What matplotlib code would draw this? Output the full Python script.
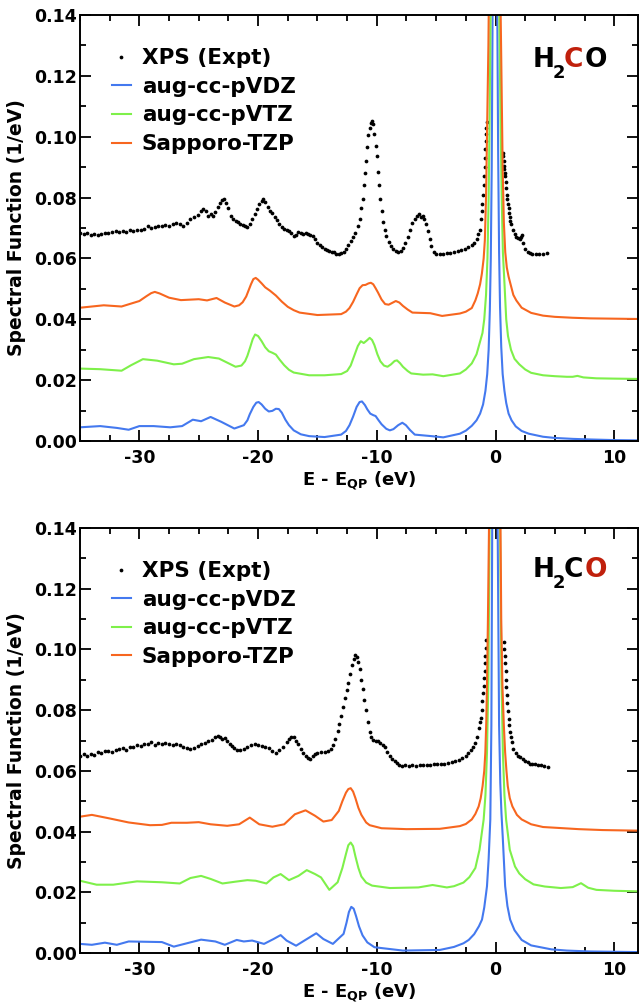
import numpy as np
import matplotlib
matplotlib.use('Agg')
import matplotlib.pyplot as plt
from matplotlib.ticker import MultipleLocator, FormatStrFormatter

plt.rcParams['font.family'] = 'DejaVu Sans'
plt.rcParams['font.weight'] = 'bold'
plt.rcParams['mathtext.fontset'] = 'dejavusans'
plt.rcParams['axes.unicode_minus'] = False

# ---------------- data: C 1s panel (top) ----------------
c_xps_x = [-35.0, -34.7, -34.4, -34.1, -33.8, -33.5, -33.2, -32.9, -32.6, -32.3, -32.0, -31.7, -31.4, -31.1,
           -30.8, -30.5, -30.2, -29.9, -29.6, -29.3, -29.0, -28.7, -28.4, -28.1, -27.8, -27.5, -27.2, -26.9,
           -26.6, -26.3, -26.0, -25.7, -25.4, -25.1, -24.8, -24.6, -24.4, -24.2, -24.0, -23.8, -23.6, -23.4,
           -23.2, -23.0, -22.85, -22.7, -22.5, -22.3, -22.1, -21.9, -21.7, -21.5, -21.3, -21.1, -20.9, -20.7,
           -20.5, -20.3, -20.1, -19.9, -19.7, -19.55, -19.4, -19.2, -19.0, -18.8, -18.6, -18.4, -18.2, -18.0,
           -17.8, -17.6, -17.4, -17.2, -17.0, -16.8, -16.6, -16.4, -16.2, -16.0, -15.8, -15.6, -15.4, -15.2,
           -15.0, -14.8, -14.6, -14.4, -14.2, -14.0, -13.8, -13.6, -13.4, -13.2, -13.0, -12.8, -12.6, -12.4,
           -12.2, -12.0, -11.8, -11.6, -11.45, -11.3, -11.2, -11.1, -11.0, -10.9, -10.8, -10.7, -10.6, -10.5,
           -10.4, -10.3, -10.2, -10.1, -10.0, -9.9, -9.8, -9.7, -9.6, -9.5, -9.35, -9.2, -9.0, -8.8, -8.6,
           -8.4, -8.2, -8.0, -7.8, -7.6, -7.4, -7.2, -7.0, -6.8, -6.6, -6.45, -6.3, -6.15, -6.0, -5.85, -5.7,
           -5.55, -5.4, -5.2, -5.0, -4.7, -4.4, -4.1, -3.8, -3.5, -3.2, -2.9, -2.6, -2.3, -2.0, -1.8, -1.6,
           -1.45, -1.3, -1.2, -1.15, -1.1, -1.05, -1.0, -0.96, -0.92, -0.88, -0.85, -0.82, -0.8, -0.77, -0.75,
           0.65, 0.67, 0.7, 0.72, 0.75, 0.77, 0.8, 0.85, 0.9, 0.95, 1.0, 1.05, 1.1, 1.15, 1.2, 1.25, 1.3, 1.45,
           1.6, 1.75, 1.9, 2.05, 2.15, 2.25, 2.35, 2.5, 2.7, 2.9, 3.1, 3.4, 3.7, 4.0, 4.3]
c_xps_y = [0.0683, 0.0680, 0.0684, 0.0678, 0.0681, 0.0676, 0.0679, 0.0685, 0.0683, 0.0688, 0.0690, 0.0686,
           0.0691, 0.0688, 0.0693, 0.0690, 0.0695, 0.0692, 0.0698, 0.0706, 0.0700, 0.0703, 0.0708, 0.0705,
           0.0711, 0.0708, 0.0714, 0.0716, 0.0712, 0.0706, 0.0718, 0.0730, 0.0737, 0.0742, 0.0755, 0.0762,
           0.0756, 0.0738, 0.0745, 0.0741, 0.0752, 0.0768, 0.0782, 0.0791, 0.0795, 0.0783, 0.0765, 0.0738,
           0.0728, 0.0722, 0.0720, 0.0713, 0.0710, 0.0706, 0.0703, 0.0712, 0.0728, 0.0745, 0.0762, 0.0778,
           0.0790, 0.0795, 0.0786, 0.0768, 0.0757, 0.0748, 0.0736, 0.0725, 0.0712, 0.0703, 0.0697, 0.0694,
           0.0690, 0.0684, 0.0675, 0.0678, 0.0686, 0.0683, 0.0680, 0.0684, 0.0679, 0.0676, 0.0673, 0.0665,
           0.0652, 0.0645, 0.0638, 0.0632, 0.0628, 0.0625, 0.0622, 0.0620, 0.0615, 0.0613, 0.0617, 0.0622,
           0.0630, 0.0645, 0.0658, 0.0670, 0.0683, 0.0705, 0.0730, 0.0765, 0.0795, 0.0840, 0.0880, 0.0920,
           0.0965, 0.1005, 0.1030, 0.1045, 0.1052, 0.1043, 0.1010, 0.0970, 0.0935, 0.0885, 0.0840, 0.0795,
           0.0755, 0.0720, 0.0695, 0.0675, 0.0655, 0.0642, 0.0632, 0.0625, 0.0620, 0.0624, 0.0635, 0.0650,
           0.0670, 0.0695, 0.0715, 0.0728, 0.0738, 0.0745, 0.0735, 0.0738, 0.0730, 0.0712, 0.0690, 0.0665,
           0.0640, 0.0622, 0.0615, 0.0616, 0.0614, 0.0617, 0.0619, 0.0622, 0.0625, 0.0627, 0.0630, 0.0636,
           0.0645, 0.0652, 0.0665, 0.0680, 0.0695, 0.0730, 0.0755, 0.0780, 0.0810, 0.0840, 0.0870, 0.0900,
           0.0930, 0.0960, 0.0985, 0.1010, 0.1030, 0.1050,
           0.0945, 0.0935, 0.0920, 0.0905, 0.0895, 0.0880, 0.0870, 0.0850, 0.0830, 0.0810, 0.0795, 0.0780,
           0.0765, 0.0750, 0.0735, 0.0722, 0.0712, 0.0692, 0.0680, 0.0672, 0.0668, 0.0665, 0.0672, 0.0678,
           0.0650, 0.0632, 0.0622, 0.0618, 0.0616, 0.0615, 0.0614, 0.0616, 0.0618]

c_vdz_x = [-35, -33.3, -31.9, -30.9, -30.0, -28.8, -27.4, -26.4, -25.5, -24.8, -24.0, -23.1, -22.0, -21.2,
           -20.9, -20.7, -20.4, -20.15, -19.95, -19.7, -19.4, -19.1, -18.8, -18.5, -18.25, -18.0, -17.7, -17.4,
           -17.0, -16.4, -15.7, -14.4, -13.0, -12.6, -12.3, -12.0, -11.7, -11.45, -11.25, -11.0, -10.8, -10.55,
           -10.3, -10.1, -9.85, -9.6, -9.2, -8.9, -8.6, -8.2, -7.85, -7.55, -7.2, -6.8, -5.4, -4.4, -3.0,
           -2.5, -2.0, -1.6, -1.3, -1.05, -0.85, -0.7, -0.58, -0.48, -0.4, -0.32, -0.25, -0.15, -0.05, 0.05,
           0.15, 0.22, 0.3, 0.38, 0.48, 0.6, 0.75, 0.9, 1.1, 1.35, 1.7, 2.2, 2.8, 4.0, 5.0, 6.5, 8.0, 10.0,
           12.0]
c_vdz_y = [0.0045, 0.0049, 0.0043, 0.0037, 0.0049, 0.0049, 0.0045, 0.0049, 0.0070, 0.0065, 0.0079, 0.0063,
           0.0041, 0.0052, 0.0068, 0.0088, 0.0112, 0.0126, 0.0128, 0.0120, 0.0106, 0.0097, 0.0099, 0.0106,
           0.0105, 0.0093, 0.0070, 0.0052, 0.0035, 0.0022, 0.0016, 0.0013, 0.0021, 0.0033, 0.0052, 0.0080,
           0.0112, 0.0128, 0.0130, 0.0118, 0.0104, 0.0090, 0.0085, 0.0082, 0.0068, 0.0055, 0.0040, 0.0035,
           0.0039, 0.0052, 0.0060, 0.0052, 0.0036, 0.0021, 0.0016, 0.0012, 0.0024, 0.0034, 0.0050, 0.0068,
           0.0090, 0.0120, 0.0165, 0.0220, 0.0300, 0.0430, 0.0600, 0.0900, 0.1400, 0.2500, 0.3500, 0.2500,
           0.1400, 0.0950, 0.0620, 0.0440, 0.0310, 0.0220, 0.0165, 0.0125, 0.0090, 0.0068, 0.0048, 0.0033,
           0.0024, 0.0014, 0.0010, 0.0007, 0.0005, 0.0003, 0.0002]

c_vtz_x = [-35, -33.3, -31.5, -30.7, -29.7, -28.5, -27.1, -26.4, -25.4, -24.2, -23.3, -21.9, -21.4, -21.1,
           -20.9, -20.7, -20.45, -20.25, -20.0, -19.7, -19.4, -19.1, -18.8, -18.5, -18.2, -17.8, -17.4, -17.0,
           -15.7, -14.4, -13.0, -12.5, -12.2, -11.9, -11.6, -11.35, -11.1, -10.85, -10.6, -10.4, -10.2, -9.95,
           -9.7, -9.4, -9.1, -8.8, -8.5, -8.3, -8.05, -7.8, -7.4, -7.1, -6.1, -5.3, -4.4, -3.0, -2.5, -2.0,
           -1.6, -1.35, -1.1, -0.95, -0.8, -0.68, -0.58, -0.5, -0.42, -0.3, -0.05, 0.2, 0.32, 0.42, 0.52,
           0.62, 0.75, 0.9, 1.05, 1.3, 1.6, 2.0, 2.5, 3.0, 4.0, 5.0, 6.0, 6.5, 6.9, 7.4, 8.5, 10.0, 12.0]
c_vtz_y = [0.0238, 0.0236, 0.0231, 0.0249, 0.0269, 0.0264, 0.0252, 0.0254, 0.0269, 0.0276, 0.0271, 0.0244,
           0.0248, 0.0262, 0.0280, 0.0304, 0.0335, 0.0350, 0.0345, 0.0328, 0.0308, 0.0295, 0.0290, 0.0284,
           0.0268, 0.0249, 0.0234, 0.0225, 0.0216, 0.0216, 0.0220, 0.0230, 0.0248, 0.0280, 0.0312, 0.0328,
           0.0322, 0.0330, 0.0339, 0.0332, 0.0315, 0.0285, 0.0262, 0.0248, 0.0244, 0.0252, 0.0263, 0.0265,
           0.0256, 0.0244, 0.0230, 0.0222, 0.0218, 0.0219, 0.0213, 0.0222, 0.0235, 0.0255, 0.0285, 0.0320,
           0.0355, 0.0400, 0.0480, 0.0600, 0.0800, 0.1050, 0.1400, 0.2200, 0.4000, 0.2200, 0.1400, 0.1050,
           0.0800, 0.0620, 0.0520, 0.0400, 0.0345, 0.0300, 0.0270, 0.0252, 0.0235, 0.0224, 0.0216, 0.0213,
           0.0211, 0.0211, 0.0214, 0.0209, 0.0206, 0.0205, 0.0204]

c_tzp_x = [-35, -33, -31.5, -30, -29.4, -29.0, -28.7, -28.3, -27.9, -27.5, -26.5, -25, -24.3, -23.5, -22.8,
           -22.0, -21.6, -21.3, -21.0, -20.8, -20.6, -20.4, -20.2, -20.0, -19.7, -19.4, -19.0, -18.5, -18.0,
           -17.5, -17.0, -16.5, -15, -13.0, -12.6, -12.3, -12.0, -11.7, -11.45, -11.2, -10.95, -10.7, -10.5,
           -10.3, -10.1, -9.9, -9.6, -9.3, -9.0, -8.7, -8.4, -8.1, -7.8, -7.4, -7.0, -5.5, -4.5, -3.0, -2.5,
           -2.0, -1.7, -1.5, -1.3, -1.15, -1.0, -0.9, -0.8, -0.7, -0.6, -0.5, -0.3, -0.05, 0.2, 0.4, 0.5, 0.6,
           0.7, 0.82, 0.95, 1.1, 1.3, 1.5, 1.75, 2.2, 3.0, 4.0, 5.0, 6.5, 8.0, 10.0, 12.0]
c_tzp_y = [0.0438, 0.0446, 0.0442, 0.0460, 0.0476, 0.0486, 0.0490, 0.0485, 0.0478, 0.0471, 0.0463, 0.0466,
           0.0462, 0.0470, 0.0455, 0.0442, 0.0446, 0.0456, 0.0475, 0.0495, 0.0515, 0.0532, 0.0536, 0.0530,
           0.0518, 0.0505, 0.0494, 0.0478, 0.0458, 0.0441, 0.0430, 0.0422, 0.0414, 0.0417, 0.0425, 0.0437,
           0.0457, 0.0482, 0.0502, 0.0512, 0.0513, 0.0518, 0.0520, 0.0515, 0.0502, 0.0488, 0.0465, 0.0450,
           0.0448, 0.0454, 0.0460, 0.0455, 0.0444, 0.0432, 0.0422, 0.0420, 0.0411, 0.0419, 0.0425, 0.0437,
           0.0462, 0.0485, 0.0515, 0.0550, 0.0600, 0.0660, 0.0800, 0.1050, 0.1300, 0.1700, 0.3000, 0.4500,
           0.3000, 0.1500, 0.1200, 0.0900, 0.0720, 0.0620, 0.0570, 0.0540, 0.0510, 0.0480, 0.0462, 0.0438,
           0.0421, 0.0412, 0.0408, 0.0405, 0.0403, 0.0402, 0.0401]

# ---------------- data: O 1s panel (bottom) ----------------
o_xps_x = [-35.0, -34.7, -34.4, -34.1, -33.8, -33.5, -33.2, -32.9, -32.6, -32.3, -32.0, -31.7, -31.4, -31.1,
           -30.8, -30.5, -30.2, -29.9, -29.6, -29.3, -29.0, -28.7, -28.4, -28.1, -27.8, -27.5, -27.2, -26.9,
           -26.6, -26.3, -26.0, -25.7, -25.4, -25.1, -24.8, -24.5, -24.2, -23.9, -23.6, -23.4, -23.2, -23.0,
           -22.8, -22.6, -22.4, -22.2, -22.0, -21.8, -21.5, -21.2, -20.9, -20.6, -20.3, -20.0, -19.7, -19.4,
           -19.1, -18.8, -18.5, -18.2, -17.9, -17.6, -17.4, -17.2, -17.0, -16.8, -16.6, -16.4, -16.2, -16.0,
           -15.8, -15.6, -15.4, -15.2, -15.0, -14.7, -14.4, -14.1, -13.9, -13.7, -13.5, -13.3, -13.15, -13.0,
           -12.85, -12.7, -12.55, -12.4, -12.25, -12.1, -11.95, -11.8, -11.7, -11.55, -11.45, -11.3, -11.2,
           -11.05, -10.9, -10.75, -10.6, -10.45, -10.3, -10.1, -9.9, -9.7, -9.5, -9.3, -9.1, -8.9, -8.7, -8.5,
           -8.3, -8.1, -7.9, -7.6, -7.3, -7.0, -6.7, -6.4, -6.1, -5.8, -5.5, -5.2, -4.9, -4.6, -4.3, -4.0,
           -3.7, -3.4, -3.1, -2.8, -2.5, -2.3, -2.1, -1.9, -1.7, -1.55, -1.4, -1.3, -1.25, -1.18, -1.1, -1.05,
           -1.0, -0.96, -0.92, -0.88, -0.85, -0.81, -0.78,
           0.72, 0.75, 0.78, 0.81, 0.85, 0.88, 0.92, 0.96, 1.0, 1.05, 1.1, 1.15, 1.2, 1.27, 1.35, 1.5, 1.7,
           1.9, 2.1, 2.3, 2.5, 2.7, 2.9, 3.1, 3.35, 3.6, 3.85, 4.1, 4.4]
o_xps_y = [0.0650, 0.0655, 0.0648, 0.0657, 0.0653, 0.0661, 0.0658, 0.0664, 0.0667, 0.0662, 0.0668, 0.0671,
           0.0674, 0.0670, 0.0677, 0.0680, 0.0686, 0.0683, 0.0690, 0.0687, 0.0694, 0.0684, 0.0691, 0.0688,
           0.0693, 0.0690, 0.0686, 0.0690, 0.0684, 0.0680, 0.0676, 0.0672, 0.0675, 0.0682, 0.0688, 0.0692,
           0.0698, 0.0703, 0.0710, 0.0716, 0.0712, 0.0705, 0.0708, 0.0698, 0.0690, 0.0682, 0.0676, 0.0670,
           0.0668, 0.0672, 0.0678, 0.0684, 0.0690, 0.0686, 0.0682, 0.0680, 0.0674, 0.0665, 0.0660, 0.0668,
           0.0680, 0.0695, 0.0705, 0.0712, 0.0710, 0.0700, 0.0688, 0.0672, 0.0660, 0.0650, 0.0643, 0.0638,
           0.0648, 0.0655, 0.0658, 0.0662, 0.0663, 0.0665, 0.0672, 0.0685, 0.0705, 0.0730, 0.0755, 0.0780,
           0.0810, 0.0840, 0.0865, 0.0890, 0.0920, 0.0950, 0.0970, 0.0982, 0.0975, 0.0960, 0.0935, 0.0900,
           0.0870, 0.0835, 0.0800, 0.0760, 0.0728, 0.0712, 0.0703, 0.0700, 0.0698, 0.0692, 0.0686, 0.0678,
           0.0663, 0.0650, 0.0640, 0.0632, 0.0625, 0.0620, 0.0617, 0.0619, 0.0616, 0.0618, 0.0617, 0.0619,
           0.0618, 0.0620, 0.0619, 0.0621, 0.0622, 0.0621, 0.0624, 0.0626, 0.0628, 0.0632, 0.0636, 0.0642,
           0.0650, 0.0658, 0.0668, 0.0680, 0.0692, 0.0712, 0.0740, 0.0760, 0.0775, 0.0800, 0.0830, 0.0855,
           0.0880, 0.0905, 0.0930, 0.0955, 0.0980, 0.1005, 0.1030,
           0.1025, 0.1000, 0.0980, 0.0955, 0.0930, 0.0900, 0.0875, 0.0850, 0.0825, 0.0798, 0.0770, 0.0750,
           0.0728, 0.0710, 0.0695, 0.0672, 0.0658, 0.0648, 0.0645, 0.0640, 0.0634, 0.0630, 0.0624, 0.0622,
           0.0623, 0.0620, 0.0618, 0.0616, 0.0614]

o_vdz_x = [-35, -34, -32.9, -31.9, -30.9, -29.5, -28.1, -27.1, -26.0, -24.8, -23.6, -22.8, -21.8, -21.2,
           -20.5, -19.5, -18.7, -18.1, -17.6, -16.8, -16.1, -15.1, -14.5, -13.7, -12.8, -12.55, -12.35, -12.15,
           -11.95, -11.75, -11.5, -11.2, -10.8, -10.2, -7.8, -4.7, -3.5, -2.7, -2.26, -1.8, -1.4, -1.14,
           -0.95, -0.8, -0.72, -0.58, -0.44, -0.35, -0.28, -0.15, -0.05, 0.05, 0.18, 0.3, 0.4, 0.5, 0.61,
           0.81, 1.0, 1.23, 1.6, 2.2, 3.0, 4.7, 6.0, 8.0, 10.0, 12.0]
o_vdz_y = [0.0030, 0.0027, 0.0034, 0.0027, 0.0038, 0.0037, 0.0036, 0.0021, 0.0032, 0.0044, 0.0038, 0.0027,
           0.0043, 0.0038, 0.0041, 0.0030, 0.0046, 0.0059, 0.0041, 0.0024, 0.0041, 0.0065, 0.0046, 0.0030,
           0.0063, 0.0100, 0.0135, 0.0152, 0.0146, 0.0122, 0.0088, 0.0058, 0.0035, 0.0019, 0.0008, 0.0010,
           0.0020, 0.0032, 0.0043, 0.0062, 0.0088, 0.0110, 0.0150, 0.0195, 0.0220, 0.0310, 0.0440, 0.0750,
           0.1400, 0.2500, 0.3500, 0.2500, 0.1400, 0.0750, 0.0560, 0.0460, 0.0380, 0.0220, 0.0155, 0.0110,
           0.0075, 0.0043, 0.0025, 0.0012, 0.0008, 0.0005, 0.0004, 0.0003]

o_vtz_x = [-35, -33.6, -32.2, -30.2, -28.1, -26.6, -25.7, -24.8, -24.0, -23.0, -21.9, -20.9, -20.2, -19.3,
           -18.7, -18.1, -17.4, -16.6, -15.9, -15.2, -14.7, -14.0, -13.3, -12.9, -12.6, -12.4, -12.2, -12.0,
           -11.8, -11.55, -11.3, -10.9, -10.4, -8.9, -6.5, -5.3, -4.1, -3.5, -2.7, -2.2, -1.7, -1.35, -1.0,
           -0.85, -0.72, -0.6, -0.5, -0.3, -0.05, 0.2, 0.38, 0.5, 0.62, 0.75, 0.89, 1.2, 1.64, 2.0, 2.5, 3.2,
           4.15, 5.5, 6.5, 7.2, 7.8, 8.5, 10.0, 12.0]
o_vtz_y = [0.0238, 0.0225, 0.0225, 0.0236, 0.0233, 0.0229, 0.0247, 0.0254, 0.0244, 0.0229, 0.0235, 0.0240,
           0.0238, 0.0229, 0.0249, 0.0260, 0.0240, 0.0254, 0.0273, 0.0260, 0.0249, 0.0208, 0.0233, 0.0280,
           0.0326, 0.0355, 0.0364, 0.0352, 0.0318, 0.0280, 0.0252, 0.0232, 0.0222, 0.0214, 0.0216, 0.0224,
           0.0216, 0.0220, 0.0232, 0.0250, 0.0280, 0.0340, 0.0440, 0.0520, 0.0660, 0.0900, 0.1400, 0.2500,
           0.4000, 0.2500, 0.1400, 0.0900, 0.0660, 0.0520, 0.0440, 0.0340, 0.0285, 0.0262, 0.0243, 0.0226,
           0.0219, 0.0214, 0.0217, 0.0230, 0.0215, 0.0208, 0.0205, 0.0203]

o_tzp_x = [-35, -34, -32.6, -30.9, -29.1, -28.1, -27.3, -26.0, -25.0, -24.0, -22.6, -21.6, -20.7, -19.9,
           -18.8, -17.8, -16.9, -16.0, -15.2, -14.5, -13.8, -13.2, -12.9, -12.6, -12.4, -12.2, -12.0, -11.8,
           -11.55, -11.3, -10.9, -10.6, -9.6, -7.5, -4.7, -3.0, -2.5, -2.0, -1.7, -1.42, -1.25, -1.09, -0.95,
           -0.86, -0.78, -0.72, -0.64, -0.55, -0.4, -0.05, 0.3, 0.42, 0.48, 0.58, 0.7, 0.81, 0.92, 1.03, 1.2,
           1.42, 1.8, 2.2, 3.0, 4.0, 5.3, 7.0, 9.0, 12.0]
o_tzp_y = [0.0449, 0.0455, 0.0444, 0.0430, 0.0421, 0.0422, 0.0429, 0.0429, 0.0431, 0.0424, 0.0419, 0.0424,
           0.0446, 0.0424, 0.0416, 0.0424, 0.0457, 0.0470, 0.0452, 0.0433, 0.0438, 0.0468, 0.0500, 0.0528,
           0.0540, 0.0543, 0.0532, 0.0510, 0.0478, 0.0455, 0.0430, 0.0421, 0.0411, 0.0408, 0.0409, 0.0418,
           0.0425, 0.0440, 0.0458, 0.0483, 0.0510, 0.0550, 0.0600, 0.0660, 0.0760, 0.0880, 0.1100, 0.1400,
           0.2200, 0.4500, 0.2200, 0.1400, 0.1100, 0.0880, 0.0750, 0.0660, 0.0600, 0.0550, 0.0510, 0.0483,
           0.0455, 0.0440, 0.0424, 0.0415, 0.0412, 0.0408, 0.0405, 0.0403]

labels = ['XPS (Expt)', 'aug-cc-pVDZ', 'aug-cc-pVTZ', 'Sapporo-TZP']
blue = '#4479ef'
green = '#7ef04a'
orange = '#f7661f'
red = '#c0200c'

W, H = 639, 1002
fig = plt.figure(figsize=(W / 100, H / 100), dpi=100)
ax1 = fig.add_axes([80 / W, (H - 441) / H, 558 / W, 426 / H])
ax2 = fig.add_axes([80 / W, (H - 953) / H, 558 / W, 425 / H])


def draw_panel(ax, xps_x, xps_y, vdz_x, vdz_y, vtz_x, vtz_y, tzp_x, tzp_y):
    ax.plot(xps_x, xps_y, 'o', color='black', ms=2.7, mew=0, label=labels[0])
    ax.plot(vdz_x, vdz_y, color=blue, lw=1.5, label=labels[1], solid_joinstyle='round')
    ax.plot(vtz_x, vtz_y, color=green, lw=1.5, label=labels[2], solid_joinstyle='round')
    ax.plot(tzp_x, tzp_y, color=orange, lw=1.5, label=labels[3], solid_joinstyle='round')
    ax.set_xlim(-35, 12)
    ax.set_ylim(0, 0.14)
    ax.xaxis.set_major_locator(MultipleLocator(10))
    ax.xaxis.set_minor_locator(MultipleLocator(2.5))
    ax.yaxis.set_major_locator(MultipleLocator(0.02))
    ax.yaxis.set_minor_locator(MultipleLocator(0.01))
    ax.yaxis.set_major_formatter(FormatStrFormatter('%.2f'))
    ax.tick_params(which='both', direction='in', top=True, right=True, width=1.3,
                   labelsize=12.5)
    ax.tick_params(which='major', length=8)
    ax.tick_params(which='minor', length=4)
    ax.tick_params(axis='x', pad=6)
    ax.tick_params(axis='y', pad=2)
    for sp in ax.spines.values():
        sp.set_linewidth(1.4)
    ax.set_ylabel('Spectral Function (1/eV)', fontsize=13.5, fontweight='bold')
    ax.yaxis.set_label_coords(-0.097, 0.5)
    ax.set_xlabel(r'E - E$_{\mathbf{QP}}$ (eV)', fontsize=13, fontweight='bold')
    ax.xaxis.set_label_coords(0.5, -0.066)
    ax.legend(loc='upper left', bbox_to_anchor=(0.057, 0.922), frameon=False, fontsize=15.5,
              handlelength=0.9, handletextpad=0.5, labelspacing=0.4, borderpad=0,
              borderaxespad=0, numpoints=1)


draw_panel(ax1, c_xps_x, c_xps_y, c_vdz_x, c_vdz_y, c_vtz_x, c_vtz_y, c_tzp_x, c_tzp_y)
draw_panel(ax2, o_xps_x, o_xps_y, o_vdz_x, o_vdz_y, o_vtz_x, o_vtz_y, o_tzp_x, o_tzp_y)


# molecule label, with the core-ionised atom in red
def molecule(base_py, c_col, o_col):
    fs = 19
    y = (H - base_py) / H
    fig.text(533 / W, y, 'H', fontsize=fs, fontweight='bold', va='baseline')
    fig.text(553 / W, (H - base_py - 11) / H, '2', fontsize=13, fontweight='bold', va='baseline')
    fig.text(564 / W, y, 'C', fontsize=fs, fontweight='bold', va='baseline', color=c_col)
    fig.text(585 / W, y, 'O', fontsize=fs, fontweight='bold', va='baseline', color=o_col)


molecule(67, red, 'black')
molecule(577, 'black', red)

fig.savefig('out.png', dpi=100)
